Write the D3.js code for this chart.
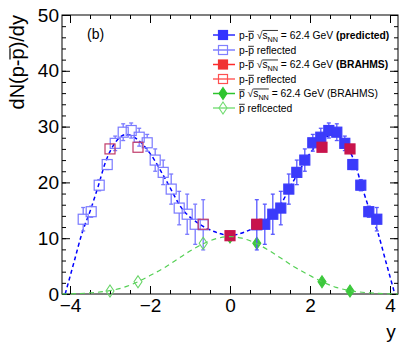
<!DOCTYPE html>
<html><head><meta charset="utf-8">
<script src="https://cdn.jsdelivr.net/npm/d3@7"></script>
<style>
body{margin:0;background:#fff}
svg{display:block}
text{font-family:"Liberation Sans",Arial,Helvetica,sans-serif}
</style>
</head><body>
<svg id="c" width="411" height="348"></svg>
<script>
// ---------------- data ----------------
const predRap = [0.67,0.87,1.07,1.27,1.47,1.67,1.87,2.07,2.27,2.47,2.67,2.87,3.07,3.27,3.47,3.67];
const predVal = [12.4,12.5,14.3,15.4,18.8,21.8,24.0,27.1,28.1,29.3,29.0,27.0,23.2,19.5,14.75,13.4];
const predErr = [4.5,3.6,3.6,3.0,2.7,2.2,2.0,1.5,1.6,1.35,1.5,1.3,0.9,1.0,1.0,2.1];

const brahmsRap = [0, 0.67, 2.3, 3.0];
const brahmsVal = [10.45, 12.5, 26.3, 26.0];

const pbarRap = [0, 0.67, 2.3, 3.0];
const pbarVal = [10.2, 9.1, 2.2, 0.55];
const pbarErr = [0.8, 0.9, 0.4, 0.2];

const fitRap = [-4.12,-3.9,-3.7,-3.5,-3.3,-3.1,-2.9,-2.6,-2.3,-2.0,-1.6,-1.2,-0.8,-0.4,0,0.4,0.8,1.2,1.6,2.0,2.3,2.6,2.9,3.1,3.3,3.5,3.7,3.9,4.12];
const fitVal = [0,5.7,10.9,14.8,19.2,23.9,26.8,28.6,27.6,25.2,20.4,15.3,12.7,11.2,10.5,11.2,12.7,15.3,20.4,25.2,27.6,28.6,26.8,23.9,19.2,14.8,10.9,5.7,0];

const pbarFitRap = [-4.2,-3.5,-3.0,-2.65,-2.3,-2.0,-1.6,-1.3,-1.0,-0.67,-0.3,0,0.3,0.67,1.0,1.3,1.6,2.0,2.3,2.65,3.0,3.5,4.2];
const pbarFitVal = [0,0.2,0.6,1.2,2.2,3.3,4.9,6.3,7.7,9.0,10.0,10.3,10.0,9.0,7.7,6.3,4.9,3.3,2.2,1.2,0.6,0.2,0];

const xMajorTicks = [-4,-2,0,2,4];
const xMinorTicks = [-4,-3.5,-3,-2.5,-2,-1.5,-1,-0.5,0,0.5,1,1.5,2,2.5,3,3.5,4];
const yMajorTicks = [0,10,20,30,40,50];
const yMinorTicks = [0,2,4,6,8,10,12,14,16,18,20,22,24,26,28,30,32,34,36,38,40,42,44,46,48,50];

// ---------------- setup ----------------
const svg = d3.select("#c");
const L=62, R=398, T=15, B=294;
const x = d3.scaleLinear().domain([-4.2,4.2]).range([L,R]);
const y = d3.scaleLinear().domain([0,50]).range([B,T]);

const C = {
  blueFill:"#3b3bfb", blueOpen:"#7a7aff", blueErr:"#5757ff", blueLine:"#0000ff",
  redFill:"#c8144c", redOpen:"#c03a6a", green:"#3cc83c", greenOpen:"#66d466", greenLine:"#55d055"
};

// rich text helper (sub-scripts, bold, overbars)
function rich(parent, px, py, segs, fs, anchor){
  const t = parent.append("text").attr("x",px).attr("y",py).attr("font-size",fs)
    .attr("text-anchor",anchor||"start").attr("fill","#000");
  let shift=0, idx=0; const bars={};
  segs.forEach(s=>{
    const sp = t.append("tspan").text(s.t);
    const target = s.sub ? fs*0.3 : 0;
    if (target!==shift){ sp.attr("dy", target-shift); shift=target; }
    if (s.sub) sp.attr("font-size", fs*0.7);
    if (s.bold) sp.attr("font-weight","bold");
    if (s.bar){
      const b = bars[s.bar[0]] || (bars[s.bar[0]]={from:idx,to:idx,h:s.bar[1]});
      b.to = idx + s.t.length - 1;
    }
    idx += s.t.length;
  });
  const node = t.node();
  Object.values(bars).forEach(b=>{
    const x0 = node.getStartPositionOfChar(b.from).x;
    const x1 = node.getEndPositionOfChar(b.to).x;
    parent.append("line").attr("x1",x0).attr("x2",x1)
      .attr("y1",py-b.h*fs).attr("y2",py-b.h*fs)
      .attr("stroke","#000").attr("stroke-width",Math.max(0.8,fs*0.06));
  });
  return t;
}

// ---------------- axes ----------------
const fmt = d3.format("d");
function styleAxis(g){ g.select(".domain").remove(); g.selectAll("line").attr("stroke","#000");
  g.selectAll("text").attr("font-size",19).attr("fill","#000").attr("font-family","Liberation Sans, Arial, sans-serif"); }

svg.append("g").attr("transform",`translate(0,${B})`)
  .call(d3.axisBottom(x).tickValues(xMinorTicks).tickSize(-4).tickFormat("")).call(styleAxis);
svg.append("g").attr("transform",`translate(0,${B})`)
  .call(d3.axisBottom(x).tickValues(xMajorTicks).tickSize(-8).tickPadding(5).tickFormat(fmt)).call(styleAxis);
svg.append("g").attr("transform",`translate(0,${T})`)
  .call(d3.axisTop(x).tickValues(xMinorTicks).tickSize(-4).tickFormat("")).call(styleAxis);
svg.append("g").attr("transform",`translate(0,${T})`)
  .call(d3.axisTop(x).tickValues(xMajorTicks).tickSize(-8).tickFormat("")).call(styleAxis);
svg.append("g").attr("transform",`translate(${L},0)`)
  .call(d3.axisLeft(y).tickValues(yMinorTicks).tickSize(-4).tickFormat("")).call(styleAxis);
svg.append("g").attr("transform",`translate(${L},0)`)
  .call(d3.axisLeft(y).tickValues(yMajorTicks).tickSize(-8).tickPadding(3).tickFormat(fmt)).call(styleAxis);
svg.append("g").attr("transform",`translate(${R},0)`)
  .call(d3.axisRight(y).tickValues(yMinorTicks).tickSize(-4).tickFormat("")).call(styleAxis);
svg.append("g").attr("transform",`translate(${R},0)`)
  .call(d3.axisRight(y).tickValues(yMajorTicks).tickSize(-8).tickFormat("")).call(styleAxis);

svg.append("rect").attr("x",L).attr("y",T).attr("width",R-L).attr("height",B-T)
  .attr("fill","none").attr("stroke","#000").attr("stroke-width",1);

// axis titles
const yt = svg.append("g").attr("transform",`translate(24,${T}) rotate(-90)`);
rich(yt, 0, 0, [{t:"dN(p-"},{t:"p",bar:["a",0.7]},{t:")/dy"}], 20, "end");
svg.append("text").attr("x",391).attr("y",338).attr("font-size",19).attr("text-anchor","middle").text("y");
svg.append("text").attr("x",87).attr("y",39).attr("font-size",14).text("(b)");

// ---------------- curves ----------------
const line = d3.line().x(d=>x(d[0])).y(d=>y(d[1])).curve(d3.curveMonotoneX);
svg.append("path").datum(fitRap.map((r,i)=>[r,fitVal[i]])).attr("d",line)
  .attr("fill","none").attr("stroke",C.blueLine).attr("stroke-width",1.5).attr("stroke-dasharray","4,3");

// ---------------- markers ----------------
const sq = 5; // half size
function errBars(g, pts, color, h){
  pts.forEach(p=>{
    const cx=x(p.r), cy=y(p.v), yt=y(p.v+p.e), yb=y(p.v-p.e);
    if (yt < cy-h){ g.append("line").attr("x1",cx).attr("x2",cx).attr("y1",yt).attr("y2",cy-h).attr("stroke",color).attr("stroke-width",1.3);
      g.append("line").attr("x1",cx-2).attr("x2",cx+2).attr("y1",yt).attr("y2",yt).attr("stroke",color).attr("stroke-width",1.3); }
    if (yb > cy+h){ g.append("line").attr("x1",cx).attr("x2",cx).attr("y1",cy+h).attr("y2",yb).attr("stroke",color).attr("stroke-width",1.3);
      g.append("line").attr("x1",cx-2).attr("x2",cx+2).attr("y1",yb).attr("y2",yb).attr("stroke",color).attr("stroke-width",1.3); }
  });
}
function squares(g, pts, fill, stroke){
  g.selectAll(null).data(pts).join("rect")
    .attr("x",p=>x(p.r)-sq).attr("y",p=>y(p.v)-sq).attr("width",2*sq).attr("height",2*sq)
    .attr("fill",fill).attr("stroke",stroke).attr("stroke-width",1.2);
}
const diamondPath = "M0,-6L4,0L0,6L-4,0Z";
function diamonds(g, pts, fill, stroke){
  g.selectAll(null).data(pts).join("path").attr("d",diamondPath)
    .attr("transform",p=>`translate(${x(p.r)},${y(p.v)})`)
    .attr("fill",fill).attr("stroke",stroke).attr("stroke-width",1.1);
}

const predPts = predRap.map((r,i)=>({r, v:predVal[i], e:predErr[i]}));
const predRefl = predRap.map((r,i)=>({r:-r, v:predVal[i], e:predErr[i]}));
const brPts = brahmsRap.map((r,i)=>({r, v:brahmsVal[i]}));
const brRefl = brahmsRap.filter(r=>r>0).map((r)=>({r:-r, v:brahmsVal[brahmsRap.indexOf(r)]}));
const pbPts = pbarRap.map((r,i)=>({r, v:pbarVal[i], e:pbarErr[i]}));
const pbRefl = pbarRap.filter(r=>r>0).map(r=>{const i=pbarRap.indexOf(r); return {r:-r, v:pbarVal[i], e:pbarErr[i]};});

const gm = svg.append("g");
errBars(gm, pbPts, C.green, 6);
diamonds(gm, pbPts, C.green, C.green);
errBars(gm, pbRefl, C.greenOpen, 6);

errBars(gm, predRefl, C.blueOpen, sq);
squares(gm, predRefl, "none", C.blueOpen);
errBars(gm, predPts, C.blueErr, sq);
squares(gm, predPts, C.blueFill, C.blueFill);

squares(gm, brRefl, "none", C.redOpen);
squares(gm, brPts, C.redFill, C.redFill);

svg.append("path").datum(pbarFitRap.map((r,i)=>[r,pbarFitVal[i]])).attr("d",line)
  .attr("fill","none").attr("stroke",C.greenLine).attr("stroke-width",1.2).attr("stroke-dasharray","5,4");
diamonds(svg.append("g"), pbRefl, "none", C.greenOpen);

// ---------------- legend ----------------
const legRows = [
  {segs:[{t:"p-"},{t:"p",bar:["a",0.72]},{t:" √"},{t:"s",bar:["r",0.8]},{t:"NN",sub:1,bar:["r",0.8]},{t:" = 62.4 GeV "},{t:"(predicted)",bold:1}], line:"#2a2aff", mk:"sq", fill:"#3434ff", stroke:"#3434ff"},
  {segs:[{t:"p-"},{t:"p",bar:["a",0.72]},{t:" reflected"}], line:"#8080ff", mk:"sq", fill:"none", stroke:"#8080ff"},
  {segs:[{t:"p-"},{t:"p",bar:["a",0.72]},{t:" √"},{t:"s",bar:["r",0.8]},{t:"NN",sub:1,bar:["r",0.8]},{t:" = 62.4 GeV "},{t:"(BRAHMS)",bold:1}], line:"#ff2a2a", mk:"sq", fill:"#f03333", stroke:"#f03333"},
  {segs:[{t:"p-"},{t:"p",bar:["a",0.72]},{t:" reflected"}], line:"#ff6060", mk:"sq", fill:"none", stroke:"#ff5050"},
  {segs:[{t:"p",bar:["a",0.72]},{t:" √"},{t:"s",bar:["r",0.8]},{t:"NN",sub:1,bar:["r",0.8]},{t:" = 62.4 GeV (BRAHMS)"}], line:"#2ec42e", mk:"dm", fill:"#2ec42e", stroke:"#2ec42e"},
  {segs:[{t:"p",bar:["a",0.72]},{t:" reflcected"}], line:"#80e080", mk:"dm", fill:"none", stroke:"#70dc70"}
];
const legY = [35,50,64.5,79,93.5,108];
const lg = svg.append("g");
legRows.forEach((row,i)=>{
  const cy = legY[i];
  lg.append("line").attr("x1",213).attr("x2",235).attr("y1",cy).attr("y2",cy).attr("stroke",row.line).attr("stroke-width",1.5);
  if (row.mk==="sq") lg.append("rect").attr("x",223-4.5).attr("y",cy-4.5).attr("width",9).attr("height",9)
      .attr("fill",row.fill).attr("stroke",row.stroke).attr("stroke-width",1.2);
  else lg.append("path").attr("d",diamondPath).attr("transform",`translate(223,${cy})`)
      .attr("fill",row.fill).attr("stroke",row.stroke).attr("stroke-width",1.1);
  rich(lg, 239, cy+3.7, row.segs, 10.3, "start");
});
</script>
</body></html>
